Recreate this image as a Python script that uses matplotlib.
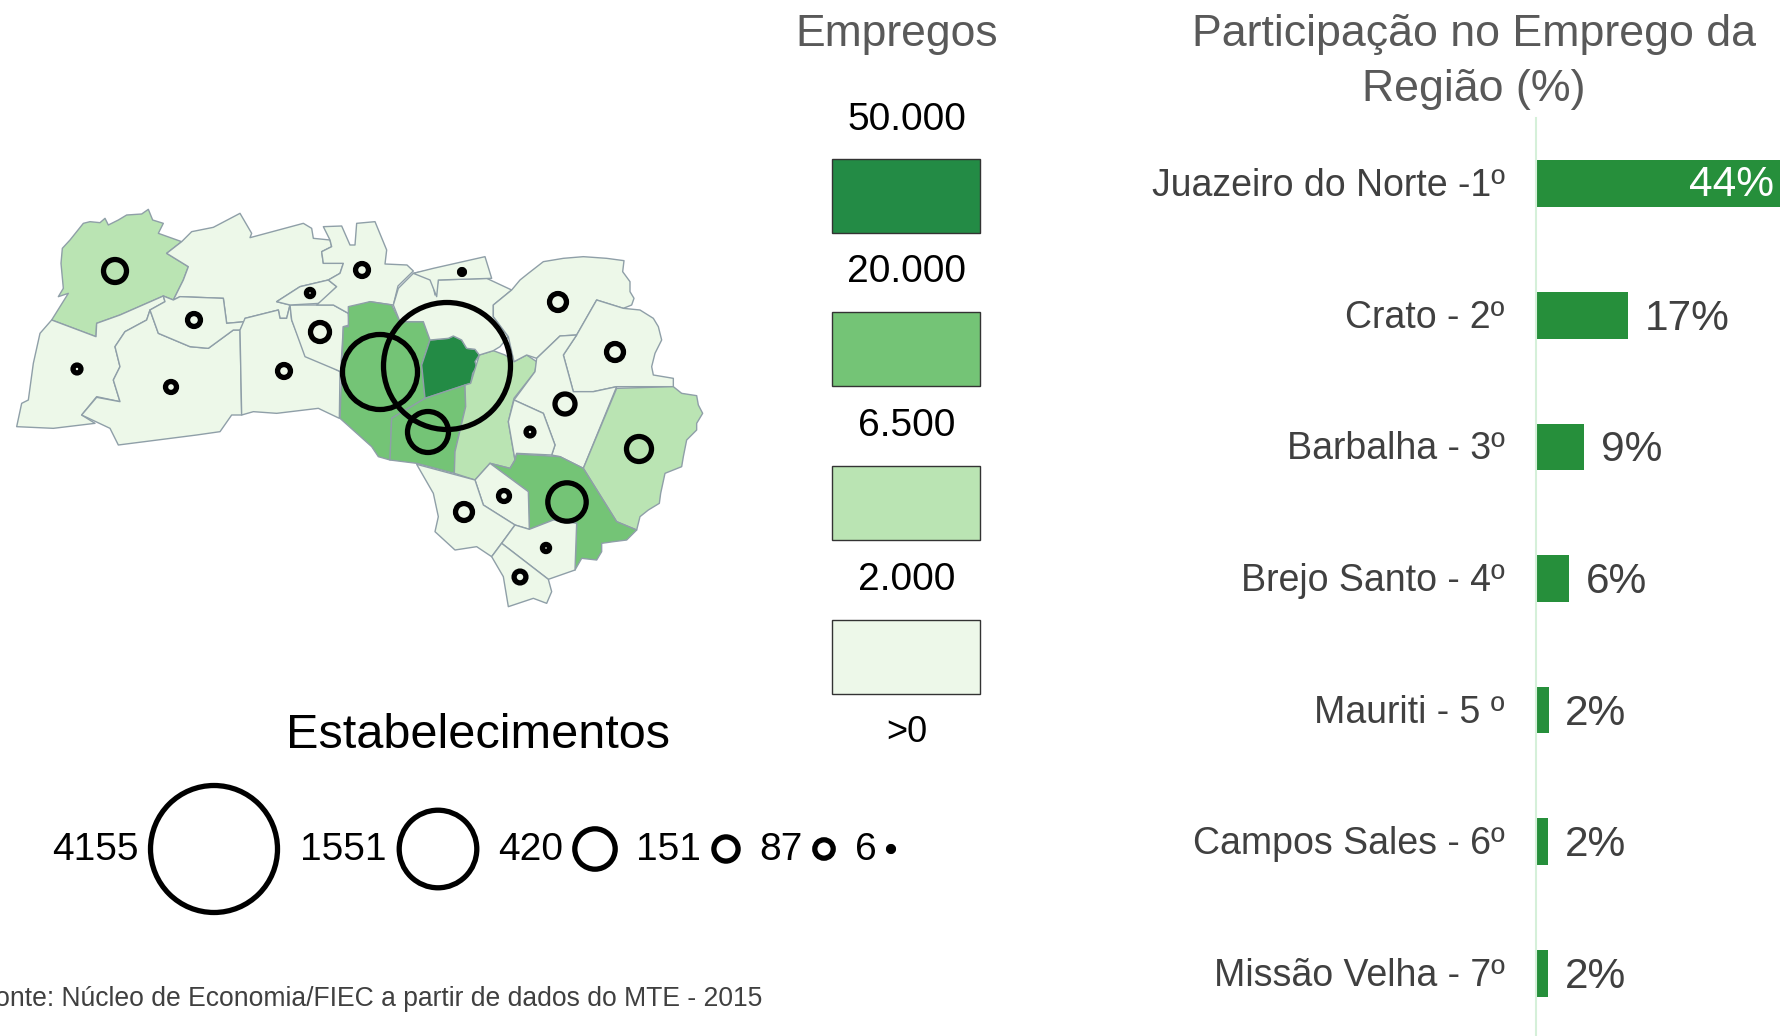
import numpy as np
import matplotlib
matplotlib.use('Agg')
import matplotlib.pyplot as plt
from matplotlib.patches import Polygon, Circle, Rectangle
from matplotlib.transforms import ScaledTranslation

plt.rcParams['font.family'] = ['Liberation Sans', 'DejaVu Sans']

# bar chart data
municipios = ['Juazeiro do Norte -1º', 'Crato - 2º', 'Barbalha - 3º', 'Brejo Santo - 4º',
              'Mauriti - 5 º', 'Campos Sales - 6º', 'Missão Velha - 7º']
participacao = [44.4, 16.7, 8.6, 5.9, 2.2, 2.1, 2.1]
part_labels = ['44%', '17%', '9%', '6%', '2%', '2%', '2%']

# legends
empregos_labels = ['50.000', '20.000', '6.500', '2.000', '>0']
estab_legend = [4155, 1551, 420, 151, 87, 6]

DARK = '#238b45'
MID = '#74c476'
LIGHT = '#bae4b3'
PALE = '#edf8e9'
classes = [DARK, MID, LIGHT, PALE]

# map outlines: (zx, zy) -> x0 + zx/3, y0 + zy/3
W = (0, 190)
E = (320, 230)
municipios_w = [
    (LIGHT, [(250,100),(270,95),(300,98),(315,85),(325,105),(355,90),(380,75),(425,72),(445,58),(458,90),(490,100),(475,130),(545,155),(500,190),(565,230),(550,270),(520,330),(490,318),(360,375),(290,400),(288,440),(155,390),(205,310),(175,320),(190,295),(183,220),(187,175),(210,150)]),
    (PALE, [(545,155),(575,125),(640,112),(720,70),(755,130),(750,143),(910,100),(935,115),(940,145),(990,150),(995,170),(965,185),(970,220),(1030,220),(1020,250),(985,270),(900,290),(830,335),(870,345),(860,385),(840,385),(835,360),(735,385),(735,395),(680,400),(670,325),(540,320),(520,330),(550,270),(565,230),(500,190)]),
    (PALE, [(155,390),(288,440),(290,400),(360,375),(490,318),(495,335),(450,360),(440,390),(375,425),(345,470),(360,530),(340,570),(360,635),(290,620),(245,675),(285,700),(160,715),(50,710),(65,640),(85,630),(100,520),(120,430)]),
    (PALE, [(245,675),(290,622),(360,635),(340,570),(360,530),(345,470),(375,425),(440,390),(450,360),(475,430),(570,470),(625,475),(700,420),(720,420),(725,675),(695,675),(660,725),(590,735),(355,765),(330,715)]),
    (PALE, [(450,360),(495,335),(490,318),(520,330),(540,320),(670,325),(680,400),(735,395),(720,420),(700,420),(625,475),(570,470),(475,430)]),
    (PALE, [(735,385),(835,360),(840,385),(860,385),(870,345),(875,390),(915,490),(1020,545),(1018,685),(955,655),(830,670),(760,665),(725,675),(720,420)]),
    (PALE, [(870,345),(950,345),(1000,345),(1045,370),(1048,405),(1030,410),(1022,545),(915,500),(875,390)]),
    (PALE, [(830,335),(900,290),(985,270),(1010,290),(960,340),(870,345)]),
    (PALE, [(965,185),(995,170),(990,150),(970,110),(1025,108),(1050,165),(1065,165),(1070,100),(1125,95),(1160,180),(1155,222),(1221,225),(1240,243),(1194,288),(1180,345),(1110,335),(1045,370),(1000,345),(950,345),(1010,290),(985,270),(1020,250),(1030,220),(970,220)]),
]
municipios_e = [
    (MID, [(85,230),(150,215),(215,225),(240,275),(310,275),(330,330),(305,405),(315,505),(215,565),(210,690),(175,680),(155,650),(60,565),(70,290),(85,290)]),
    (DARK, [(330,330),(385,325),(400,318),(425,330),(440,355),(465,358),(478,375),(465,395),(470,410),(458,430),(452,460),(315,505),(305,405)]),
    (MID, [(215,565),(315,505),(435,465),(437,530),(405,665),(403,730),(290,700),(210,690)]),
    (LIGHT, [(435,465),(452,460),(478,375),(520,362),(555,375),(582,395),(620,375),(650,395),(645,425),(582,505),(565,575),(585,690),(570,715),(510,700),(465,750),(403,730),(405,665),(437,530)]),
    (PALE, [(240,275),(220,225),(235,175),(280,130),(330,120),(345,195),(355,150),(500,145),(575,180),(520,225),(520,260),(565,320),(540,350),(520,362),(478,375),(465,358),(440,355),(425,330),(400,318),(385,325),(330,330),(310,275)]),
    (PALE, [(280,130),(340,115),(495,80),(515,145),(355,150),(350,200),(330,150)]),
    (PALE, [(520,225),(575,180),(600,150),(625,130),(670,95),(730,85),(790,80),(860,85),(912,92),(908,125),(930,155),(930,185),(942,205),(935,225),(910,235),(830,210),(770,315),(720,318),(650,385),(620,375),(582,395),(565,320),(520,260)]),
    (PALE, [(830,210),(910,235),(960,240),(1000,265),(1015,290),(1025,330),(1005,370),(995,410),(1000,435),(1060,445),(1060,470),(890,470),(820,485),(760,485),(730,375),(770,315)]),
    (PALE, [(650,385),(720,318),(770,315),(730,375),(760,485),(820,485),(890,470),(790,715),(720,680),(695,675),(705,645),(670,550),(582,510),(645,425)]),
    (PALE, [(582,510),(670,550),(705,645),(695,675),(590,670),(585,690),(565,575)]),
    (LIGHT, [(890,475),(1060,470),(1085,490),(1130,497),(1135,525),(1148,550),(1130,580),(1130,600),(1100,630),(1090,680),(1085,710),(1035,730),(1022,790),(1018,820),(985,840),(960,860),(950,900),(890,875),(790,715)]),
    (MID, [(590,672),(720,680),(790,715),(890,875),(950,900),(920,930),(880,935),(845,940),(845,965),(830,990),(785,985),(765,1020),(770,880),(700,870),(628,898),(625,785),(510,700),(570,715),(585,690)]),
    (PALE, [(510,700),(625,785),(628,898),(585,885),(490,825),(465,750)]),
    (PALE, [(290,703),(465,750),(490,825),(585,885),(515,980),(470,950),(405,960),(345,905),(355,860),(340,790)]),
    (PALE, [(585,885),(628,898),(700,870),(770,880),(765,1020),(685,1048),(545,940)]),
    (PALE, [(545,940),(685,1048),(695,1085),(680,1120),(640,1105),(565,1130),(550,1040),(515,980)]),
]

# establishment circles on the map: x px, y px, count
cid_x = [115, 194, 77, 171, 284, 320, 362, 310, 462, 558, 615, 565, 530, 639, 567, 504, 464, 546, 520, 428, 380, 447]
cid_y = [271, 320, 369, 387, 371, 332, 270, 293, 272, 302, 352, 404, 432, 449, 502, 496, 512, 548, 577, 432, 372, 366]
cid_estab = [136, 43, 16, 31, 43, 93, 43, 13, 6, 74, 74, 103, 16, 161, 380, 31, 74, 13, 36, 433, 1450, 4155]


def raio(v):
    return 63.5 * np.sqrt(v / 4155.0)


fig = plt.figure(figsize=(17.81, 10.36), dpi=100)
ax = fig.add_axes([0, 0, 1, 1])
ax.set_xlim(0, 1781)
ax.set_ylim(1036, 0)
ax.axis('off')

for origem, lista in ((W, municipios_w), (E, municipios_e)):
    for cor, pts in lista:
        pts = [(origem[0] + a / 3.0, origem[1] + b / 3.0) for a, b in pts]
        ax.add_patch(Polygon(pts, closed=True, facecolor=cor, edgecolor='#8f9fa8', lw=1.0, joinstyle='round'))

for x, y, v in zip(cid_x, cid_y, cid_estab):
    ax.add_patch(Circle((x, y), raio(v), fill=False, edgecolor='k', lw=3.8, zorder=5))

# titles
ax.text(897, 34.5, 'Empregos', ha='center', va='center', fontsize=32, color='#595959')
ax.text(1474, 62, 'Participação no Emprego da\nRegião (%)', ha='center', va='center', fontsize=32.2,
        color='#595959', linespacing=1.42)
ax.text(478, 735.5, 'Estabelecimentos', ha='center', va='center', fontsize=35, color='k')
ax.text(762, 999, 'Fonte: Núcleo de Economia/FIEC a partir de dados do MTE - 2015', ha='right', va='center',
        fontsize=19.1, color='#404040')

# employment legend
rect_y = [159, 312, 466, 620]
lab_y = [119.5, 272.5, 426.5, 579.5, 733]
for y, cor in zip(rect_y, classes):
    ax.add_patch(Rectangle((832, y), 148, 74, facecolor=cor, edgecolor='#333333', lw=1.0))
for y, s in zip(lab_y, empregos_labels):
    ax.text(907, y, s, ha='center', va='center', fontsize=28 if s != '>0' else 26, color='k')

# bubble legend
bub_x = [214, 438, 595, 726, 824, 891]
txt_x = [139, 387, 563, 701, 803, 877]
for bx, tx, v in zip(bub_x, txt_x, estab_legend):
    ax.add_patch(Circle((bx, 849), raio(v), fill=False, edgecolor='k', lw=3.8))
    ax.text(tx, 849.5, str(v), ha='right', va='center', fontsize=28, color='k')

# bar chart
bx = fig.add_axes([1536.5 / 1781., 0, 244.5 / 1781., (1036 - 118) / 1036.])
bx.patch.set_alpha(0)
pos = np.arange(len(municipios))
bx.barh(pos, participacao, height=0.355, color='#268f3b')
bx.set_xlim(0, 44.4)
bx.set_ylim(6.477, -0.5)
bx.set_yticks(pos)
bx.set_yticklabels(municipios, fontsize=27, color='#404040')
bx.tick_params(axis='y', length=0, pad=23)
for lbl in bx.get_yticklabels():
    lbl.set_transform(lbl.get_transform() + ScaledTranslation(0, 1.5 / 100, fig.dpi_scale_trans))
bx.set_xticks([])
for s in ['top', 'right', 'bottom']:
    bx.spines[s].set_visible(False)
bx.spines['left'].set_color('#d5f0d9')
bx.spines['left'].set_linewidth(1.5)
for i, (v, s) in enumerate(zip(participacao, part_labels)):
    if i == 0:
        bx.annotate(s, (v, i), xytext=(-5, -1), textcoords='offset points', ha='right', va='center',
                    fontsize=30.5, color='white')
    else:
        bx.annotate(s, (v, i), xytext=(12, -2.5), textcoords='offset points', ha='left', va='center',
                    fontsize=30.5, color='#404040')

plt.savefig('out.png', dpi=100)
